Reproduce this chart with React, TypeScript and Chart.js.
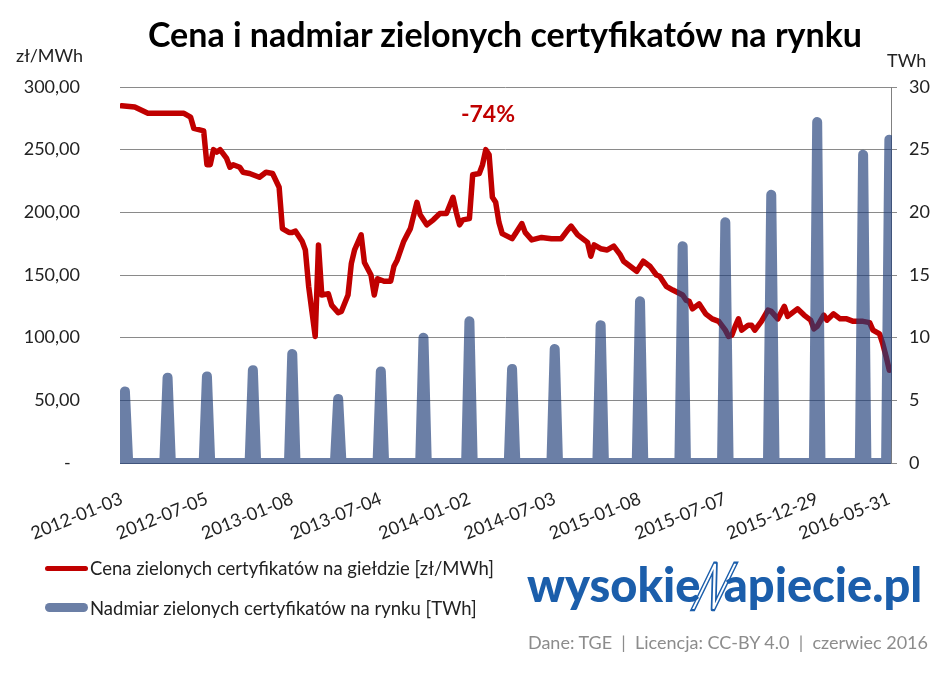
import React, { useEffect, useRef } from 'react';
import { Chart, registerables } from 'chart.js';

Chart.register(...registerables);

// ---- data ----
const totalWeeks = 235; // weekly sessions, index 0..234
const tickWeeks = [0, 26, 52, 79, 106, 132, 158, 184, 212, 234];
const tickLabels = [
  '2012-01-03', '2012-07-05', '2013-01-08', '2013-07-04', '2014-01-02',
  '2014-07-03', '2015-01-08', '2015-07-07', '2015-12-29', '2016-05-31',
];

const priceWeeks = [
  0, 4, 8, 14, 19, 21, 22, 25, 26, 27, 28, 29, 30, 32, 33, 34, 36, 37, 39, 40,
  42, 44, 46, 48, 49, 51, 52, 53, 55, 56, 57, 58, 59, 60, 61, 63, 64, 66, 67, 69,
  70, 71, 73, 74, 76, 77, 78, 80, 82, 83, 84, 86, 87, 88, 90, 91, 93, 95, 97, 99,
  101, 102, 103, 104, 106, 107, 109, 110, 111, 112, 113, 114, 115, 116, 119, 120, 122, 123, 125, 128,
  131, 134, 136, 137, 139, 142, 143, 144, 146, 148, 150, 152, 153, 155, 157, 159, 161, 163, 164, 166,
  168, 171, 172, 173, 174, 176, 178, 180, 182, 184, 185, 186, 187, 188, 189, 191, 192, 193, 195, 197,
  198, 200, 202, 203, 204, 206, 208, 210, 211, 212, 214, 215, 217, 219, 221, 223, 226, 228, 229, 231,
  232, 233, 234,
];
const priceValues = [
  285, 284, 279, 279, 279, 276, 267, 265, 238, 238, 250, 248, 250, 243, 236, 238, 236, 232, 231, 230,
  228, 232, 231, 220, 187, 184, 184, 185, 177, 170, 141, 121, 101, 174, 134, 135, 126, 120, 121, 134,
  159, 170, 182, 160, 150, 134, 147, 145, 145, 157, 162, 177, 182, 187, 208, 198, 190, 194, 199, 199,
  212, 200, 190, 194, 195, 230, 231, 238, 250, 246, 212, 208, 192, 183, 179, 183, 191, 184, 178, 180,
  179, 179, 186, 189, 182, 176, 165, 174, 171, 170, 173, 166, 161, 157, 153, 161, 157, 150, 149, 141,
  138, 134, 130, 129, 123, 127, 119, 115, 113, 106, 101, 102, 109, 115, 106, 110, 110, 106, 113, 122,
  121, 115, 125, 117, 119, 123, 118, 114, 107, 109, 118, 114, 119, 115, 115, 113, 113, 112, 106, 103,
  95, 85, 74,
];

const surplusWeeks = [1, 14, 26, 40, 52, 66, 79, 92, 106, 119, 132, 146, 158, 171, 184, 198, 212, 226, 234];
const surplusValues = [5.7, 6.8, 6.9, 7.4, 8.7, 5.1, 7.3, 10.0, 11.3, 7.5, 9.1, 11.0, 12.9, 17.3, 19.2, 21.4, 27.2, 24.6, 25.8];

const seriesNames = [
  'Cena zielonych certyfikatów na giełdzie [zł/MWh]',
  'Nadmiar zielonych certyfikatów na rynku [TWh]',
];

const RED = '#c00000';
const BLUE = 'rgba(31,60,120,0.66)';
const FONT = 'Lato, "Open Sans", sans-serif';

function buildSurplus() {
  const pts: { x: number; y: number }[] = [];
  for (let w = 0; w < totalWeeks; w++) {
    const i = surplusWeeks.indexOf(w);
    pts.push({ x: w, y: i >= 0 ? surplusValues[i] : 0 });
  }
  return pts;
}

function ChartCanvas() {
  const ref = useRef<HTMLCanvasElement | null>(null);
  useEffect(() => {
    if (!ref.current) return;
    const chart = new Chart(ref.current, {
      type: 'line',
      data: {
        datasets: [
          {
            label: seriesNames[0],
            data: priceWeeks.map((w, i) => ({ x: w, y: priceValues[i] })),
            borderColor: RED,
            borderWidth: 5.5,
            pointRadius: 0,
            tension: 0,
            borderJoinStyle: 'round',
            borderCapStyle: 'round',
            yAxisID: 'y',
            order: 2,
          },
          {
            label: seriesNames[1],
            data: buildSurplus(),
            borderColor: BLUE,
            borderWidth: 10,
            pointRadius: 0,
            tension: 0,
            borderJoinStyle: 'round',
            borderCapStyle: 'round',
            yAxisID: 'y2',
            order: 1,
            clip: { left: 0, top: 10, right: 1, bottom: 1 },
          },
        ],
      },
      options: {
        animation: false,
        responsive: false,
        maintainAspectRatio: false,
        layout: { padding: { top: 87, left: 0, right: 0, bottom: 0 } },
        plugins: { legend: { display: false }, tooltip: { enabled: false }, title: { display: false } },
        scales: {
          x: {
            type: 'linear',
            min: -0.5,
            max: totalWeeks - 0.5,
            afterBuildTicks: (scale: any) => {
              scale.ticks = tickWeeks.map((v) => ({ value: v }));
            },
            afterFit: (scale: any) => {
              scale.height = 676 - 463;
            },
            ticks: {
              autoSkip: false,
              minRotation: 22,
              maxRotation: 22,
              padding: 17,
              color: '#222',
              font: { family: FONT, size: 18 },
              callback: (value: any) => {
                const i = tickWeeks.indexOf(Number(value));
                return i >= 0 ? tickLabels[i] : '';
              },
            },
            grid: { display: false },
            border: { display: true, color: '#808080', width: 1 },
          },
          y: {
            position: 'left',
            min: 0,
            max: 300,
            afterFit: (scale: any) => {
              scale.width = 120;
            },
            ticks: {
              stepSize: 50,
              padding: 40,
              color: '#222',
              font: { family: FONT, size: 18 },
              callback: (v: any) => (Number(v) === 0 ? '-  ' : Number(v).toFixed(2).replace('.', ',')),
            },
            grid: { color: '#8a8a8a', lineWidth: 1, drawTicks: false },
            border: { display: false },
          },
          y2: {
            position: 'right',
            min: 0,
            max: 30,
            afterFit: (scale: any) => {
              scale.width = 945 - 891;
            },
            ticks: {
              stepSize: 5,
              padding: 12,
              color: '#222',
              font: { family: FONT, size: 18 },
            },
            grid: { drawOnChartArea: false, drawTicks: true, tickLength: 6, color: '#8a8a8a' },
            border: { display: true, color: '#808080', width: 1 },
          },
        },
      },
    } as any);
    return () => chart.destroy();
  }, []);
  return <canvas ref={ref} width={945} height={676} style={{ position: 'absolute', left: 0, top: 0, width: 945, height: 676 }} />;
}

const abs = (s: React.CSSProperties): React.CSSProperties => ({ position: 'absolute', whiteSpace: 'pre', fontFamily: FONT, ...s });

export default function App() {
  return (
    <div style={{ position: 'absolute', left: 0, top: 0, width: 945, height: 676, background: '#fff', overflow: 'hidden' }}>
      <ChartCanvas />
      <div style={abs({ left: 505, top: 13, transform: 'translateX(-50%)', fontSize: 34, fontWeight: 700, color: '#000', lineHeight: '42px' })}>
        Cena i nadmiar zielonych certyfikatów na rynku
      </div>
      <div style={abs({ left: 16, top: 43, fontSize: 18, color: '#222', lineHeight: '24px' })}>zł/MWh</div>
      <div style={abs({ left: 887, top: 48, fontSize: 18, color: '#222', lineHeight: '24px' })}>TWh</div>
      <div style={abs({ left: 488, top: 99, transform: 'translateX(-50%)', fontSize: 23, fontWeight: 700, color: RED, lineHeight: '28px' })}>-74%</div>

      <div style={abs({ left: 45, top: 566, width: 43, height: 5, borderRadius: 3, background: RED })} />
      <div style={abs({ left: 90, top: 556, fontSize: 18.5, color: '#222', lineHeight: '24px' })}>{seriesNames[0]}</div>
      <div style={abs({ left: 45, top: 603, width: 43, height: 9, borderRadius: 5, background: BLUE })} />
      <div style={abs({ left: 90, top: 596, fontSize: 18.5, color: '#222', lineHeight: '24px' })}>{seriesNames[1]}</div>

      <div style={abs({ left: 527, top: 556, fontSize: 47, fontWeight: 900, color: '#1b5eab', lineHeight: '56px', display: 'flex', alignItems: 'center' })}>
        <span>wysokie</span>
        <span style={{ display: 'inline-block', fontWeight: 400, fontStyle: 'italic', color: 'transparent', WebkitTextStroke: '1.5px #1b5eab', transform: 'skewX(-22deg) scaleY(1.5)', margin: '0 -6px 0 -2px', fontSize: 44 } as any}>N</span>
        <span>apiecie.pl</span>
      </div>
      <div style={abs({ right: 17, top: 630, fontSize: 18, color: '#8c8c8c', lineHeight: '24px' })}>
        {'Dane: TGE  |  Licencja: CC-BY 4.0  |  czerwiec 2016'}
      </div>
    </div>
  );
}
